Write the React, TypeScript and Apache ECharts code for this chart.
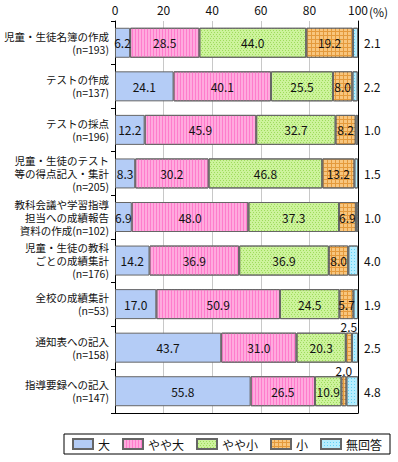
import React, { useEffect, useRef } from "react";
import * as echarts from "echarts";

const categories = [
  "児童・生徒名簿の作成\n(n=193)",
  "テストの作成\n(n=137)",
  "テストの採点\n(n=196)",
  "児童・生徒のテスト\n等の得点記入・集計\n(n=205)",
  "教科会議や学習指導\n担当への成績報告\n資料の作成(n=102)",
  "児童・生徒の教科\nごとの成績集計\n(n=176)",
  "全校の成績集計\n(n=53)",
  "通知表への記入\n(n=158)",
  "指導要録への記入\n(n=147)",
];
const seriesNames = ["大", "やや大", "やや小", "小", "無回答"];
const dai = [6.2, 24.1, 12.2, 8.3, 6.9, 14.2, 17.0, 43.7, 55.8];
const yayaDai = [28.5, 40.1, 45.9, 30.2, 48.0, 36.9, 50.9, 31.0, 26.5];
const yayaSho = [44.0, 25.5, 32.7, 46.8, 37.3, 36.9, 24.5, 20.3, 10.9];
const sho = [19.2, 8.0, 8.2, 13.2, 6.9, 8.0, 5.7, 2.5, 2.0];
const mukaito = [2.1, 2.2, 1.0, 1.5, 1.0, 4.0, 1.9, 2.5, 4.8];
const xTicks = [0, 20, 40, 60, 80, 100];

const FONT = "'Noto Sans CJK JP', 'Noto Sans', sans-serif";

export default function App() {
  const ref = useRef<HTMLDivElement>(null);
  useEffect(() => {
    if (!ref.current) return;
    const chart = echarts.init(ref.current, null, { renderer: "svg" });
    const border = { borderColor: "#666", borderWidth: 1 };
    const inside = {
      show: true,
      position: "inside" as const,
      color: "#111",
      fontSize: 12,
      fontFamily: FONT,
      formatter: (p: any) => Number(p.value).toFixed(1),
    };
    const styles = [
      { color: "#b4ccf6", ...border },
      {
        color: "#ffaade",
        ...border,
        decal: {
          symbol: "rect",
          symbolSize: 1,
          color: "#ff7ccc",
          dashArrayX: [1, 2],
          dashArrayY: [4, 0],
          rotation: 0,
        },
      },
      {
        color: "#cdf39c",
        ...border,
        decal: {
          symbol: "rect",
          symbolSize: 1,
          color: "#9edc5c",
          dashArrayX: [[1, 2], [0, 1, 1, 1]],
          dashArrayY: [1, 1],
          rotation: 0,
        },
      },
      {
        color: "#e49a3c",
        ...border,
        decal: {
          symbol: "rect",
          symbolSize: 1,
          color: "#f8c67e",
          dashArrayX: [3, 1],
          dashArrayY: [3, 1],
          rotation: 0,
        },
      },
      {
        color: "#b6eeff",
        ...border,
        decal: {
          symbol: "rect",
          symbolSize: 1,
          color: "#62d2f6",
          dashArrayX: [1, 2],
          dashArrayY: [1, 2],
          rotation: 0,
        },
      },
    ];
    const mk = (i: number, data: any[], label: any) => ({
      name: seriesNames[i],
      type: "bar",
      stack: "total",
      barWidth: 30,
      itemStyle: styles[i],
      label,
      emphasis: { disabled: true },
      data,
    });
    const shoData = sho.map((v) =>
      v < 3
        ? {
            value: v,
            label: {
              show: true,
              position: "top",
              distance: 0,
              color: "#111",
              fontSize: 12,
              fontFamily: FONT,
              formatter: (p: any) => Number(p.value).toFixed(1),
            },
          }
        : v
    );
    chart.setOption({
      animation: false,
      textStyle: { fontFamily: FONT },
      grid: {
        left: 115,
        right: 40,
        top: 21,
        bottom: 49,
        containLabel: false,
        outerBoundsMode: "none",
      },
      legend: {
        left: 64,
        top: 434,
        width: 334,
        itemWidth: 20,
        itemHeight: 10,
        itemGap: 12,
        borderColor: "#000",
        borderWidth: 1,
        padding: [4, 8, 4, 8],
        icon: "rect",
        textStyle: { fontSize: 12, color: "#111", fontFamily: FONT },
        data: seriesNames,
      },
      xAxis: [
        {
          type: "value",
          position: "top",
          min: 0,
          max: 100,
          interval: 20,
          axisLine: { show: false },
          axisTick: { show: false },
          axisLabel: {
            color: "#111",
            fontSize: 12,
            margin: 6,
            formatter: (v: number) => (xTicks.includes(v) ? String(v) : ""),
          },
          splitLine: { show: true, lineStyle: { color: "#c8c8c8", width: 1 } },
        },
        {
          type: "value",
          position: "bottom",
          min: 0,
          max: 100,
          axisLine: { show: true, onZero: false, lineStyle: { color: "#000" } },
          axisTick: { show: false },
          axisLabel: { show: false },
          splitLine: { show: false },
        },
      ],
      yAxis: [
        {
          type: "category",
          inverse: true,
          data: categories,
          axisLine: { show: true, lineStyle: { color: "#000" } },
          axisTick: { show: true, length: 4, lineStyle: { color: "#000" } },
          axisLabel: {
            color: "#111",
            fontSize: 10.5,
            lineHeight: 13,
            margin: 6,
            align: "right",
          },
        },
        {
          type: "category",
          inverse: true,
          position: "right",
          data: categories,
          axisLine: { show: true, onZero: false, lineStyle: { color: "#000" } },
          axisTick: { show: false },
          axisLabel: { show: false },
        },
      ],
      graphic: [
        {
          type: "text",
          left: 369,
          top: 5,
          style: { text: "(%)", fontSize: 12, fill: "#111", fontFamily: FONT },
        },
      ],
      series: [
        mk(0, dai, inside),
        mk(1, yayaDai, inside),
        mk(2, yayaSho, inside),
        mk(3, shoData, {
          ...inside,
          formatter: (p: any) => (p.value < 3 ? "" : Number(p.value).toFixed(1)),
        }),
        mk(4, mukaito, {
          show: true,
          position: "right",
          distance: 6,
          color: "#111",
          fontSize: 12,
          fontFamily: FONT,
          formatter: (p: any) => Number(p.value).toFixed(1),
        }),
      ],
    });
    return () => chart.dispose();
  }, []);
  return (
    <div
      ref={ref}
      style={{ position: "absolute", left: 0, top: 0, width: 398, height: 462, background: "#fff" }}
    />
  );
}
